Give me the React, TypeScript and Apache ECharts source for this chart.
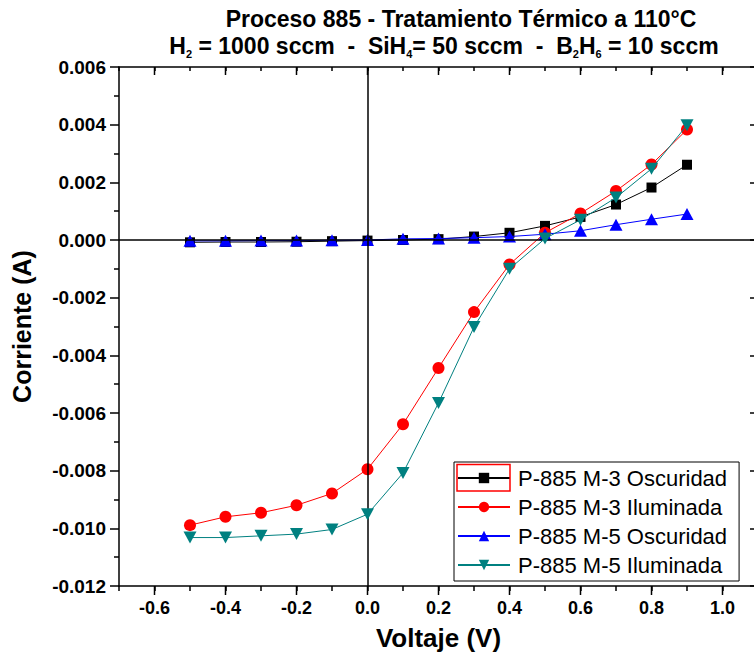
import React, { useEffect, useRef } from 'react';
import * as echarts from 'echarts';

const FONT = '"Liberation Sans", Arial, Helvetica, sans-serif';

const voltage = [-0.5, -0.4, -0.3, -0.2, -0.1, 0.0, 0.1, 0.2, 0.3, 0.4, 0.5, 0.6, 0.7, 0.8, 0.9];
const m3Dark = [-0.00008, -0.00007, -0.00007, -0.00006, -0.00004, -0.00002, 0.0, 0.00003, 0.00012, 0.00025, 0.00049, 0.0008, 0.00123, 0.00182, 0.00261];
const m3Light = [-0.00989, -0.0096, -0.00946, -0.0092, -0.00879, -0.00795, -0.00639, -0.00444, -0.0025, -0.00085, 0.00025, 0.00092, 0.0017, 0.00262, 0.00383];
const m5Dark = [-0.00003, -0.00003, -0.00002, -0.00002, -0.00001, 0.0, 0.00004, 0.00005, 0.00008, 0.00012, 0.0002, 0.00032, 0.00053, 0.00072, 0.0009];
const m5Light = [-0.01032, -0.01032, -0.01026, -0.0102, -0.01004, -0.00951, -0.00808, -0.00565, -0.00302, -0.001, 0.00005, 0.0007, 0.00147, 0.00247, 0.00398];

const seriesNames = ['P-885 M-3 Oscuridad', 'P-885 M-3 Iluminada', 'P-885 M-5 Oscuridad', 'P-885 M-5 Iluminada'];
const xMajorTicks = [-0.6, -0.4, -0.2, 0.0, 0.2, 0.4, 0.6, 0.8, 1.0];
const X_MIN = -0.7, X_MAX = 1.1, X_STEP = 0.1;
const Y_MIN = -0.012, Y_MAX = 0.006, Y_STEP = 0.002;

const titleLine1 = 'Proceso 885 - Tratamiento Térmico a 110°C';
const titleLine2 = '{m|H}{s|2}{m| = 1000 sccm  -  SiH}{s|4}{m|= 50 sccm  -  B}{s|2}{m|H}{s|6}{m| = 10 sccm}';

export default function App() {
  const ref = useRef<HTMLDivElement>(null);
  useEffect(() => {
    document.body.style.margin = '0';
    const chart = echarts.init(ref.current!, null, { renderer: 'svg' });
    const mk = (vals: number[]) => voltage.map((v, i) => [v, vals[i]]);
    const isMajor = (v: number) => xMajorTicks.some((t) => Math.abs(t - v) < 1e-6);
    const axisLineStyle = { color: '#000', width: 1.5 };

    const option: any = {
      animation: false,
      backgroundColor: '#fff',
      grid: { left: 119, right: -4, top: 67, bottom: 70, containLabel: false, outerBoundsMode: 'none' },
      xAxis: [
        {
          type: 'value', min: X_MIN, max: X_MAX, interval: X_STEP, position: 'bottom',
          axisLine: { show: true, onZero: false, lineStyle: axisLineStyle },
          axisTick: { show: true, length: 5, lineStyle: axisLineStyle },
          splitLine: { show: false },
          axisLabel: {
            margin: 13, color: '#000', fontFamily: FONT, fontWeight: 'bold', fontSize: 18,
            formatter: (v: number) => (isMajor(v) ? v.toFixed(1) : ''),
          },
          name: 'Voltaje (V)', nameLocation: 'middle', nameGap: 39,
          nameTextStyle: { color: '#000', fontFamily: FONT, fontWeight: 'bold', fontSize: 26 },
        },
        {
          type: 'value', min: X_MIN, max: X_MAX, interval: X_STEP, position: 'top',
          axisLine: { show: true, onZero: false, lineStyle: axisLineStyle },
          axisTick: { show: true, inside: true, length: 4, lineStyle: axisLineStyle },
          splitLine: { show: false },
          axisLabel: { show: false },
        },
      ],
      yAxis: [
        {
          type: 'value', min: Y_MIN, max: Y_MAX, interval: Y_STEP, position: 'left',
          axisLine: { show: true, onZero: false, lineStyle: axisLineStyle },
          axisTick: { show: true, length: 9, lineStyle: axisLineStyle },
          minorTick: { show: true, splitNumber: 2, length: 5, lineStyle: axisLineStyle },
          splitLine: { show: false },
          axisLabel: {
            margin: 13, color: '#000', fontFamily: FONT, fontWeight: 'bold', fontSize: 19,
            formatter: (v: number) => v.toFixed(3),
          },
          name: 'Corriente (A)', nameLocation: 'middle', nameGap: 85,
          nameTextStyle: { color: '#000', fontFamily: FONT, fontWeight: 'bold', fontSize: 25 },
        },
        {
          type: 'value', min: Y_MIN, max: Y_MAX, interval: Y_STEP, position: 'right',
          axisLine: { show: true, onZero: false, lineStyle: axisLineStyle },
          axisTick: { show: true, inside: true, length: 8, lineStyle: axisLineStyle },
          minorTick: { show: true, splitNumber: 2, length: 4, lineStyle: axisLineStyle },
          splitLine: { show: false },
          axisLabel: { show: false },
        },
      ],
      legend: {
        orient: 'vertical', left: 454, top: 462,
        data: seriesNames,
        backgroundColor: '#fff', borderColor: '#000', borderWidth: 1,
        padding: [5, 12, 5, 3], itemGap: 7, itemWidth: 52, itemHeight: 13,
        lineStyle: { width: 2 },
        textStyle: { color: '#000', fontFamily: FONT, fontSize: 22, padding: [0, 0, 0, 3] },
        selectedMode: false,
      },
      graphic: [
        {
          type: 'text', x: 461, y: 19, silent: true,
          style: { text: titleLine1, align: 'center', verticalAlign: 'middle', fill: '#000', font: `bold 23px ${FONT}` },
        },
        {
          type: 'text', x: 444, y: 46, silent: true,
          style: {
            text: titleLine2, align: 'center', verticalAlign: 'middle', fill: '#000',
            rich: {
              m: { fontFamily: FONT, fontWeight: 'bold', fontSize: 23, fill: '#000', color: '#000' },
              s: { fontFamily: FONT, fontWeight: 'bold', fontSize: 11, fill: '#000', color: '#000', verticalAlign: 'bottom', padding: [15, 0, 0, 0] },
            },
          },
        },
        {
          type: 'rect', z: 100, silent: true,
          shape: { x: 457, y: 464.5, width: 53, height: 26.5 },
          style: { fill: 'none', stroke: '#ff0000', lineWidth: 1.5 },
        },
      ],
      series: [
        {
          name: seriesNames[0], type: 'line', data: mk(m3Dark),
          symbol: 'rect', symbolSize: 10,
          itemStyle: { color: '#000000' }, lineStyle: { color: '#000000', width: 1 },
          z: 2,
          markLine: {
            silent: true, symbol: 'none', label: { show: false },
            lineStyle: { color: '#000', width: 1.5, type: 'solid' },
            data: [{ xAxis: 0 }, { yAxis: 0 }],
          },
        },
        {
          name: seriesNames[1], type: 'line', data: mk(m3Light),
          symbol: 'circle', symbolSize: 12,
          itemStyle: { color: '#ff0000' }, lineStyle: { color: '#ff0000', width: 1 },
          z: 3,
        },
        {
          name: seriesNames[2], type: 'line', data: mk(m5Dark),
          symbol: 'triangle', symbolSize: [13, 12],
          itemStyle: { color: '#0000ff' }, lineStyle: { color: '#0000ff', width: 1 },
          z: 4,
        },
        {
          name: seriesNames[3], type: 'line', data: mk(m5Light),
          symbol: 'triangle', symbolSize: [13, 12], symbolRotate: 180,
          itemStyle: { color: '#008080' }, lineStyle: { color: '#008080', width: 1 },
          z: 5,
        },
        {
          type: 'custom', name: 'majorTicks', silent: true, clip: false, z: 10,
          data: xMajorTicks.map((t) => [t, 0]),
          renderItem: (params: any, api: any) => {
            const x = api.value(0);
            const b = api.coord([x, Y_MIN]);
            const t = api.coord([x, Y_MAX]);
            return {
              type: 'group',
              children: [
                { type: 'line', shape: { x1: b[0], y1: b[1], x2: b[0], y2: b[1] + 9 }, style: { stroke: '#000', lineWidth: 1.5 } },
                { type: 'line', shape: { x1: t[0], y1: t[1], x2: t[0], y2: t[1] + 8 }, style: { stroke: '#000', lineWidth: 1.5 } },
              ],
            };
          },
        },
      ],
    };
    chart.setOption(option);
    return () => chart.dispose();
  }, []);
  return <div ref={ref} style={{ width: 754, height: 656 }} />;
}
